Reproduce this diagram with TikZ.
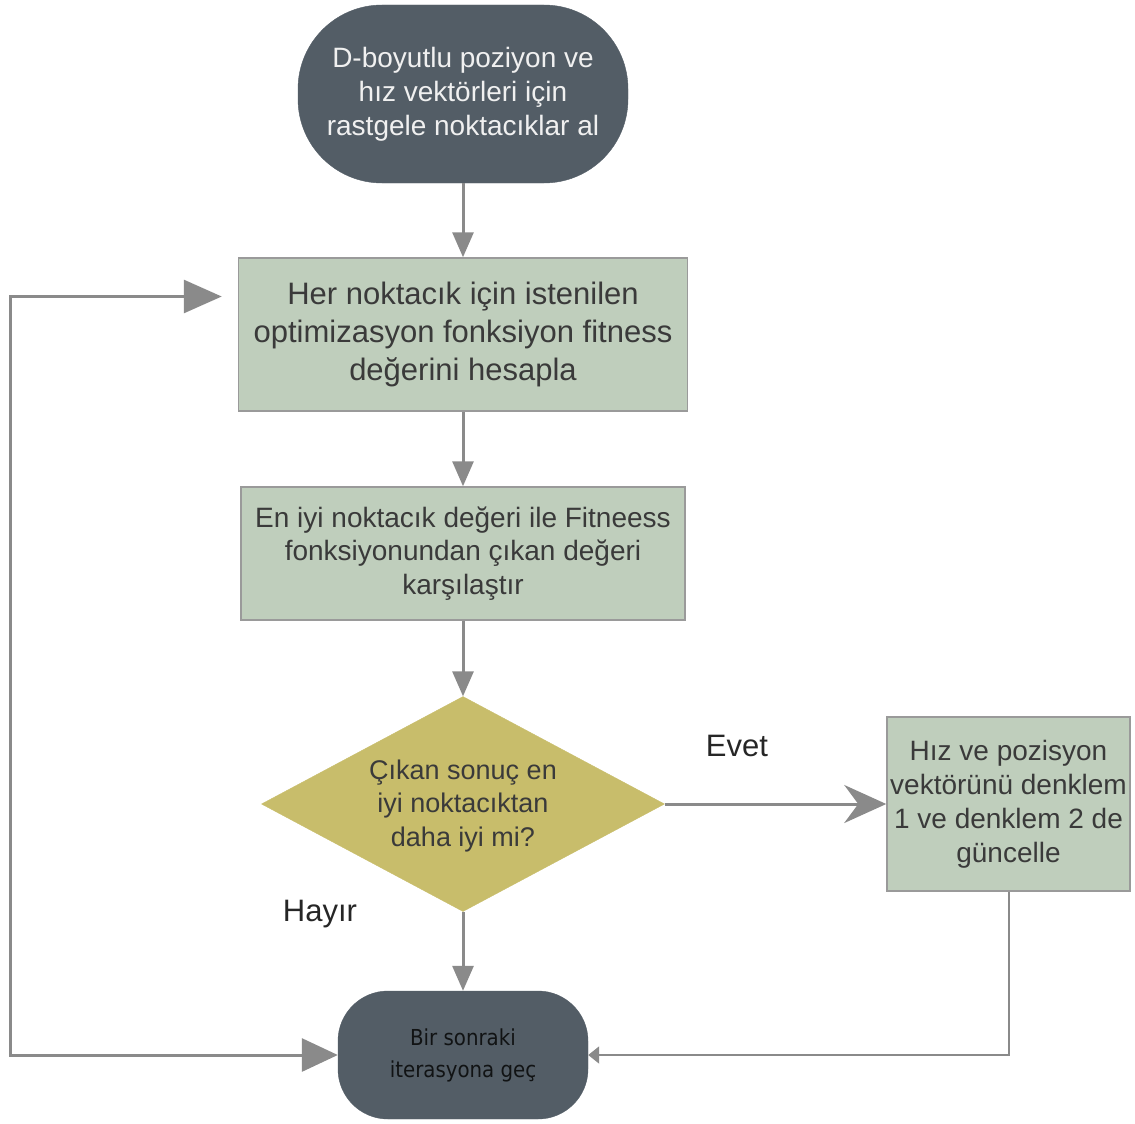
\documentclass[tikz,border=0pt]{standalone}
\usepackage{fontspec}
\setmainfont{Liberation Sans}
\newfontfamily\condfont{DejaVu Sans Condensed}
\usetikzlibrary{arrows.meta,shapes.geometric}

\definecolor{slate}{HTML}{535D66}
\definecolor{sage}{HTML}{BFCEBC}
\definecolor{olive}{HTML}{C8BD6B}
\definecolor{edge}{HTML}{8A8A8A}
\definecolor{frame}{HTML}{9A9A9A}
\definecolor{ink}{HTML}{3A3A3A}

\tikzset{
  termbox/.style={draw=slate, fill=slate, rectangle, rounded corners=84pt,
    text=white!94!black, align=center, inner sep=0pt,
    font=\fontsize{28pt}{34pt}\selectfont},
  procbox/.style={draw=frame, line width=1.5pt, fill=sage, rectangle,
    text=ink, align=center, inner sep=0pt},
  decbox/.style={draw=olive, fill=olive, diamond, inner sep=0pt},
  endbox/.style={draw=slate, fill=slate, rectangle, rounded corners=50pt,
    text=black!80!slate, align=center,
    inner sep=0pt, font=\condfont\fontsize{22pt}{32pt}\selectfont},
  lbl/.style={text=black!85, font=\fontsize{31pt}{36pt}\selectfont},
  flow/.style={draw=edge, line width=3pt,
    -{Triangle[length=25pt,width=21pt]}},
}

\begin{document}
\begin{tikzpicture}[x=1pt,y=-1pt]
  \useasboundingbox (0,0) rectangle (1135,1124);

  % nodes
  \node[termbox, minimum width=330pt, minimum height=178pt] (start) at (463,94)
    {D-boyutlu poziyon ve\\hız vektörleri için\\rastgele noktacıklar al};
  \node[procbox, minimum width=449pt, minimum height=153pt,
        font=\fontsize{31pt}{38pt}\selectfont] (eval) at (463,334.5)
    {Her noktacık için istenilen\\optimizasyon fonksiyon fitness\\değerini hesapla};
  \node[procbox, minimum width=444pt, minimum height=133pt,
        font=\fontsize{28pt}{33.5pt}\selectfont] (comp) at (463,553.5)
    {En iyi noktacık değeri ile Fitneess\\fonksiyonundan çıkan değeri\\karşılaştır};
  \node[decbox, minimum width=403pt, minimum height=215pt] (dec) at (463,804) {};
  \node[text=ink, align=center, font=\fontsize{27pt}{33.5pt}\selectfont]
    (dectext) at (463,806) {Çıkan sonuç en\\iyi noktacıktan\\daha iyi mi?};
  \node[procbox, minimum width=243pt, minimum height=174pt,
        font=\fontsize{28pt}{34pt}\selectfont] (upd) at (1008.5,804)
    {Hız ve pozisyon\\vektörünü denklem\\1 ve denklem 2 de\\güncelle};
  \node[endbox, minimum width=250pt, minimum height=128pt] (next) at (463,1055)
    {Bir sonraki\\iterasyona geç};

  % labels
  \node[lbl] (yes) at (737,746) {Evet};
  \node[lbl] (no) at (320,914) {Hayır};

  % connectors
  \draw[flow] (start) -- (eval);
  \draw[flow] (eval) -- (comp);
  \draw[flow] (comp) -- (dec);
  \draw[flow] (dec) -- (next);
  \draw[draw=edge, line width=3pt,
        -{Stealth[length=42pt,width=38pt,inset=14pt]}] (dec.east) -- (upd.west);
  \draw[draw=edge, line width=2pt,
        -{Triangle[length=11pt,width=17pt]}] (upd.south) |- (next.east);
  \coordinate (corner) at (10,1055);
  \draw[draw=edge, line width=3pt,
        {Triangle[length=36pt,width=33pt]}-{Triangle[length=38pt,width=33pt]},
        shorten >=16pt]
    (next.west) -- (corner) |- ([yshift=38pt]eval.west);
\end{tikzpicture}
\end{document}
